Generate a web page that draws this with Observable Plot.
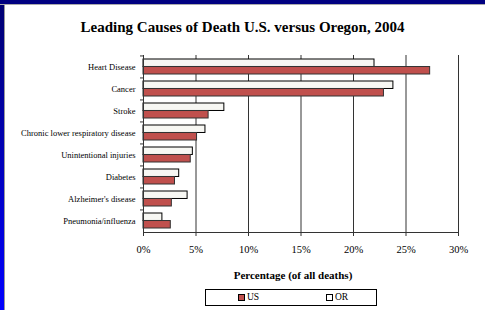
<!DOCTYPE html>
<html>
<head>
<meta charset="utf-8">
<script src="https://cdn.jsdelivr.net/npm/d3@7"></script>
<script src="https://cdn.jsdelivr.net/npm/@observablehq/plot@0.6"></script>
<style>
  html, body { margin: 0; padding: 0; background: #fff; }
  #wrap { position: relative; width: 485px; height: 310px; overflow: hidden; background: #fff; font-family: "Liberation Serif", "Times New Roman", serif; }
  #leftbar { position: absolute; left: 0; top: 0; width: 4px; height: 310px; background: linear-gradient(#000070, #0000ff); border-right: 1px solid #999; }
  #topbar { position: absolute; left: 0; top: 0; width: 485px; height: 4px; background: #000080; border-bottom: 1px solid #aaa; }
  #title { position: absolute; left: 0; width: 485px; top: 19px; text-align: center; font-weight: bold; font-size: 15px; color: #000; }
  #chart { position: absolute; left: 0; top: 40px; }
  #chart svg text { font-family: "Liberation Serif", "Times New Roman", serif; fill: #000; }
  #legend { position: absolute; left: 205px; top: 289px; width: 172px; height: 17px; border: 1px solid #000; box-sizing: border-box; font-size: 9.5px; }
  .item { position: absolute; top: 2px; display: flex; align-items: center; gap: 2px; }
  .sw { width: 7px; height: 7px; border: 1px solid #000; box-sizing: border-box; display: inline-block; }
</style>
</head>
<body>
<div id="wrap">
  <div id="title">Leading Causes of Death U.S. versus Oregon, 2004</div>
  <div id="chart"></div>
  <div id="legend"></div>
  <div id="leftbar"></div>
  <div id="topbar"></div>
</div>
<script>
const categories = ["Heart Disease", "Cancer", "Stroke", "Chronic lower respiratory disease", "Unintentional injuries", "Diabetes", "Alzheimer's disease", "Pneumonia/influenza"];
const usValues = [27.3, 22.9, 6.2, 5.1, 4.5, 3.0, 2.7, 2.6];
const orValues = [22.0, 23.8, 7.7, 5.9, 4.7, 3.4, 4.2, 1.8];
const seriesNames = ["US", "OR"];
const seriesColors = ["#c0504d", "#f7f7f3"];
const xTicks = [0, 5, 10, 15, 20, 25, 30];
const xLabel = "Percentage (of all deaths)";

const usData = categories.map((c, i) => ({cause: c, value: usValues[i]}));
const orData = categories.map((c, i) => ({cause: c, value: orValues[i]}));

const W = 485, H = 245, mT = 15, mB = 53, mL = 143, mR = 27;
const step = (H - mT - mB) / categories.length;
const half = step * 0.68 / 2;
const font = "'Liberation Serif', 'Times New Roman', serif";

const chart = Plot.plot({
  width: W, height: H,
  marginTop: mT, marginBottom: mB, marginLeft: mL, marginRight: mR,
  style: {fontFamily: font, color: "#000", background: "transparent"},
  x: {domain: [0, 30]},
  y: {domain: categories, paddingInner: 0.32, paddingOuter: 0.16},
  marks: [
    Plot.gridX({ticks: xTicks.slice(1), stroke: "#333", strokeOpacity: 1, strokeWidth: 1}),
    Plot.barX(orData, {x: "value", y: "cause", fill: seriesColors[1], stroke: "#000", strokeWidth: 1, insetBottom: half}),
    Plot.barX(usData, {x: "value", y: "cause", fill: seriesColors[0], stroke: "#333", strokeWidth: 1, insetTop: half}),
    Plot.frame({anchor: "left", stroke: "#333"}),
    Plot.frame({anchor: "bottom", stroke: "#333"}),
    Plot.axisX({ticks: xTicks, tickFormat: d => d + "%", tickSize: 4, tickPadding: 9, fontSize: 10.5, fontFamily: font, label: null, stroke: "#333"}),
    Plot.axisY({tickSize: 0, tickPadding: 8, fontSize: 8.5, fontFamily: font, label: null}),
    Plot.axisY({tickSize: 3, tickFormat: () => "", dy: -step / 2, label: null, stroke: "#333"}),
    Plot.text([xLabel], {text: d => d, frameAnchor: "bottom", dy: 43, dx: -8, fontWeight: "bold", fontSize: 11, fontFamily: font, lineAnchor: "middle"})
  ]
});
document.getElementById("chart").appendChild(chart);

const legend = document.getElementById("legend");
const legendX = [32, 120];
seriesNames.forEach((name, i) => {
  const item = document.createElement("div");
  item.className = "item";
  item.style.left = legendX[i] + "px";
  item.innerHTML = `<span class="sw" style="background:${i === 1 ? "#fff" : seriesColors[i]}"></span><span>${name}</span>`;
  legend.appendChild(item);
});
</script>
</body>
</html>
